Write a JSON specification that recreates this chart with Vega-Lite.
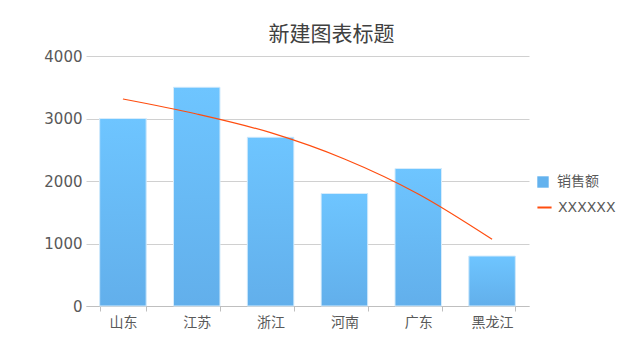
{
  "$schema": "https://vega.github.io/schema/vega-lite/v6.json",
  "width": 443,
  "height": 250,
  "autosize": {"type": "none"},
  "padding": {"left": 86, "top": 56, "right": 108, "bottom": 49},
  "background": "white",
  "config": {
    "font": "DejaVu Sans, Noto Sans CJK SC",
    "view": {"stroke": null}
  },
  "title": {
    "text": "新建图表标题",
    "font": "Noto Sans CJK SC",
    "fontSize": 21,
    "fontWeight": "normal",
    "color": "#404040",
    "anchor": "middle",
    "dx": 24,
    "offset": 4
  },
  "data": {
    "values": [
      {"province": "山东", "sales": 3000, "trend": 3312},
      {"province": "江苏", "sales": 3500, "trend": 3072},
      {"province": "浙江", "sales": 2700, "trend": 2773},
      {"province": "河南", "sales": 1800, "trend": 2352},
      {"province": "广东", "sales": 2200, "trend": 1792},
      {"province": "黑龙江", "sales": 800, "trend": 1067}
    ]
  },
  "encoding": {
    "x": {
      "field": "province",
      "type": "nominal",
      "sort": null,
      "title": null,
      "scale": {"paddingInner": 0.37, "paddingOuter": 0.185},
      "axis": {
        "labelAngle": 0,
        "labelFont": "Noto Sans CJK SC",
        "labelFontSize": 14,
        "labelColor": "#595959",
        "labelPadding": 4,
        "domainColor": "#bfbfbf",
        "tickColor": "#bfbfbf",
        "tickSize": 5,
        "tickBand": "extent",
        "grid": false
      }
    }
  },
  "layer": [
    {
      "mark": {"type": "bar"},
      "encoding": {
        "y": {
          "field": "sales",
          "type": "quantitative",
          "title": null,
          "scale": {"domain": [0, 4000], "nice": false},
          "axis": {
            "values": [0, 1000, 2000, 3000, 4000],
            "format": "d",
            "labelFont": "DejaVu Sans",
            "labelFontSize": 15,
            "labelColor": "#595959",
            "labelPadding": 4,
            "domain": false,
            "ticks": false,
            "gridColor": "#d0d0d0",
            "gridWidth": 1
          }
        },
        "fill": {
          "datum": "销售额",
          "type": "nominal",
          "scale": {"domain": ["销售额"], "range": ["#63b2ee"]},
          "legend": {
            "title": null,
            "orient": "none",
            "legendX": 450,
            "legendY": 119,
            "symbolType": "square",
            "symbolSize": 130,
            "symbolStrokeWidth": 0,
            "labelFontSize": 14,
            "labelColor": "#595959",
            "labelOffset": 7
          }
        }
      }
    },
    {
      "mark": {
        "type": "bar",
        "stroke": "#d6ecfc",
        "strokeWidth": 1,
        "fill": {
          "gradient": "linear",
          "x1": 0, "y1": 0, "x2": 0, "y2": 1,
          "stops": [
            {"offset": 0, "color": "#6ec5ff"},
            {"offset": 1, "color": "#62afeb"}
          ]
        }
      },
      "encoding": {
        "y": {"field": "sales", "type": "quantitative"}
      }
    },
    {
      "mark": {"type": "line", "interpolate": "monotone", "strokeWidth": 1.2},
      "encoding": {
        "y": {"field": "trend", "type": "quantitative"},
        "stroke": {
          "datum": "XXXXXX",
          "type": "nominal",
          "scale": {"domain": ["XXXXXX"], "range": ["#ff4d0f"]},
          "legend": {
            "title": null,
            "orient": "none",
            "legendX": 450,
            "legendY": 143,
            "symbolType": "stroke",
            "symbolSize": 200,
            "symbolStrokeWidth": 2,
            "labelFontSize": 14,
            "labelColor": "#595959",
            "labelOffset": 5
          }
        }
      }
    }
  ],
  "resolve": {"scale": {"fill": "independent", "stroke": "independent"}}
}
